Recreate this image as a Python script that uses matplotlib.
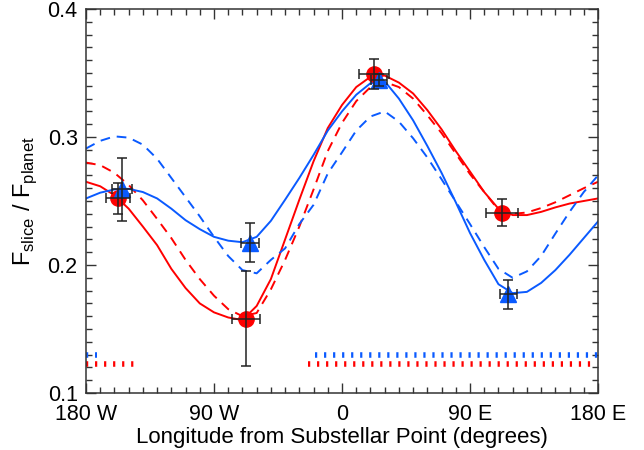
import numpy as np
import matplotlib
matplotlib.use("Agg")
import matplotlib.pyplot as plt

plt.rcParams["font.family"] = ["Liberation Sans", "DejaVu Sans"]
plt.rcParams["mathtext.fontset"] = "custom"
plt.rcParams["mathtext.rm"] = "Liberation Sans"
plt.rcParams["lines.scale_dashes"] = False

RED = "#ff0000"
BLUE = "#0a5aff"

# model curves, sampled every 10 degrees from 180 W to 180 E
lon_grid = np.arange(-180, 181, 10)
red_solid = [0.265, 0.2615, 0.2545, 0.244, 0.230, 0.2155, 0.197, 0.182, 0.170, 0.163,
             0.159, 0.157, 0.168, 0.189, 0.220, 0.251, 0.281, 0.307, 0.325, 0.339,
             0.347, 0.348, 0.3425, 0.334, 0.321, 0.306, 0.289, 0.273, 0.257, 0.244,
             0.239, 0.239, 0.2415, 0.245, 0.248, 0.250, 0.252]
red_dashed = [0.280, 0.278, 0.272, 0.2625, 0.2505, 0.236, 0.221, 0.204, 0.189, 0.176,
              0.1655, 0.160, 0.1625, 0.181, 0.204, 0.230, 0.259, 0.289, 0.311, 0.328,
              0.339, 0.343, 0.339, 0.330, 0.317, 0.303, 0.287, 0.271, 0.257, 0.243,
              0.240, 0.241, 0.2445, 0.249, 0.2545, 0.260, 0.265]
blue_solid = [0.252, 0.2565, 0.259, 0.2595, 0.257, 0.252, 0.244, 0.235, 0.228, 0.222,
              0.219, 0.2178, 0.222, 0.2345, 0.251, 0.268, 0.286, 0.305, 0.320, 0.333,
              0.342, 0.3435, 0.330, 0.313, 0.293, 0.272, 0.249, 0.225, 0.204, 0.185,
              0.178, 0.179, 0.186, 0.196, 0.208, 0.221, 0.234]
blue_dashed = [0.291, 0.297, 0.3005, 0.2995, 0.294, 0.283, 0.268, 0.253, 0.238, 0.222,
               0.207, 0.196, 0.1935, 0.204, 0.213, 0.232, 0.247, 0.2715, 0.288, 0.305,
               0.316, 0.320, 0.312, 0.299, 0.284, 0.267, 0.2495, 0.232, 0.214, 0.197,
               0.190, 0.195, 0.207, 0.2245, 0.2415, 0.257, 0.270]

# measured slices
red_lon = [-157.5, -67.5, 22.5, 112.5]
red_val = [0.252, 0.158, 0.349, 0.241]
red_xerr = [8.5, 10.0, 10.5, 11.6]
red_yerr = [0.0124, 0.037, 0.0117, 0.0103]

blue_lon = [-155.0, -65.0, 26.0, 117.0]
blue_val = [0.259, 0.2175, 0.3445, 0.177]
blue_xerr = [7.0, 6.3, 5.7, 6.0]
blue_yerr = [0.0248, 0.0154, 0.005, 0.011]

# dotted longitude ranges at the bottom
red_ranges = [(-180, -146), (-24, 176)]
blue_ranges = [(-180, -172), (-19, 180)]
red_level = 0.1225
blue_level = 0.1295

xticks = [-180, -90, 0, 90, 180]
xtick_labels = ["180 W", "90 W", "0", "90 E", "180 E"]
yticks = [0.1, 0.2, 0.3, 0.4]

fig = plt.figure(figsize=(6.44, 4.5), dpi=100)
ax = fig.add_axes([86 / 644, 1 - 393 / 450, 512 / 644, 384 / 450])

ax.plot(lon_grid, red_solid, color=RED, lw=1.4)
ax.plot(lon_grid, red_dashed, color=RED, lw=1.4, dashes=(7, 5))
ax.plot(lon_grid, blue_solid, color=BLUE, lw=1.4)
ax.plot(lon_grid, blue_dashed, color=BLUE, lw=1.4, dashes=(7, 5))

for a, b in red_ranges:
    ax.plot([a, b], [red_level, red_level], color=RED, lw=4,
            dashes=(1.6, 4.9), solid_capstyle="butt", dash_capstyle="butt")
for a, b in blue_ranges:
    ax.plot([a, b], [blue_level, blue_level], color=BLUE, lw=4,
            dashes=(1.6, 4.9), solid_capstyle="butt", dash_capstyle="butt")

ax.plot(red_lon, red_val, "o", color=RED, ms=11, zorder=4)
ax.plot(blue_lon, blue_val, "^", color=BLUE, ms=11, zorder=4)
ax.errorbar(red_lon, red_val, xerr=red_xerr, yerr=red_yerr, fmt="none",
            ecolor="#222222", elinewidth=1.1, capsize=3.5, capthick=1.1, zorder=5)
ax.errorbar(blue_lon, blue_val, xerr=blue_xerr, yerr=blue_yerr, fmt="none",
            ecolor="#222222", elinewidth=1.1, capsize=3.5, capthick=1.1, zorder=5)

ax.set_xlim(-180, 180)
ax.set_ylim(0.1, 0.4)
ax.set_xticks(xticks)
ax.set_xticklabels(xtick_labels)
ax.set_xticks(np.arange(-180, 181, 10), minor=True)
ax.set_yticks(yticks)
ax.set_yticklabels([f"{v:.1f}" for v in yticks])
ax.set_yticks(np.arange(0.1, 0.401, 0.01), minor=True)
ax.tick_params(which="both", direction="in", top=True, right=True,
               color="#333333", labelsize=15.5)
ax.tick_params(which="major", length=7, width=1)
ax.tick_params(which="minor", length=4, width=1)
ax.tick_params(axis="x", pad=8)
ax.tick_params(axis="y", pad=6)
for s in ax.spines.values():
    s.set_linewidth(1.1)
    s.set_color("#333333")

ax.set_xlabel("Longitude from Substellar Point (degrees)", fontsize=16, labelpad=1)
ax.set_ylabel(r"F$_{\rm slice}$ / F$_{\rm planet}$", fontsize=17, labelpad=6)

fig.savefig("out.png", dpi=100)
